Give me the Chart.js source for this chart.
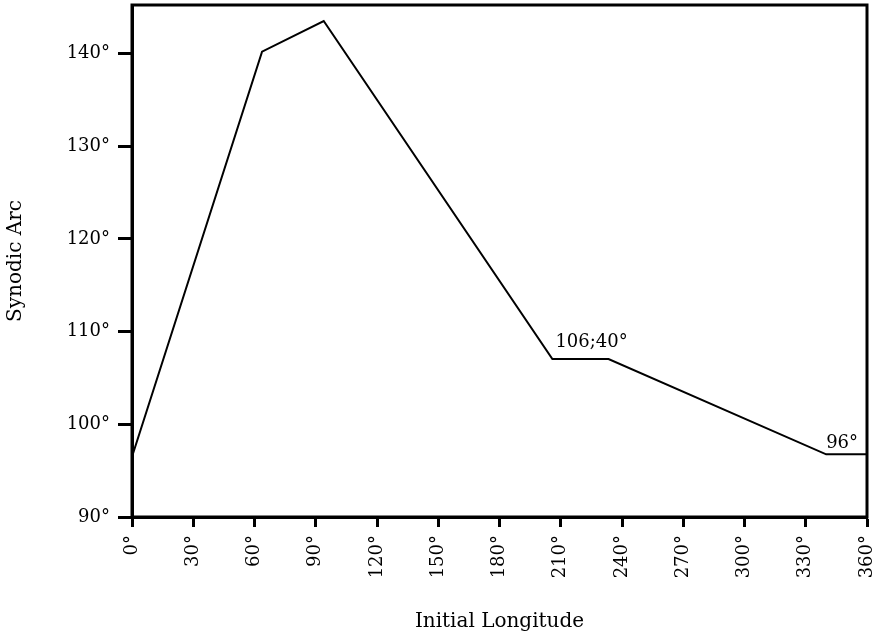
<!DOCTYPE html>
<html>
<head>
<meta charset="utf-8">
<script src="https://cdn.jsdelivr.net/npm/chart.js@4"></script>
<style>
  html, body { margin: 0; padding: 0; background: #fff; }
  #wrap { width: 886px; height: 642px; }
</style>
</head>
<body>
<div id="wrap"><canvas id="c" width="886" height="642"></canvas></div>
<script>
// Data
const longitudes = [0, 63.7, 93.9, 205.9, 233.4, 340.0, 360];
const synodicArc = [96.5, 140.2, 143.5, 107.04, 107.04, 96.76, 96.76];
const xTickValues = [0, 30, 60, 90, 120, 150, 180, 210, 240, 270, 300, 330, 360];
const yTickValues = [90, 100, 110, 120, 130, 140];
const annotationTexts = ['106;40°', '96°'];
const annotationIndex = [3, 5];

const FONT = 'DejaVu Serif';

const whiteBg = {
  id: 'whiteBg',
  beforeDraw(chart) {
    const ctx = chart.ctx;
    ctx.save();
    ctx.fillStyle = '#fff';
    ctx.fillRect(0, 0, chart.width, chart.height);
    ctx.restore();
  }
};

const frameAndLabels = {
  id: 'frameAndLabels',
  afterDraw(chart) {
    const ctx = chart.ctx;
    const a = chart.chartArea;
    ctx.save();
    ctx.strokeStyle = '#000';
    ctx.lineWidth = 3;
    ctx.strokeRect(a.left, a.top, a.right - a.left, a.bottom - a.top);
    const xs = chart.scales.x, ys = chart.scales.y;
    ctx.fillStyle = '#000';
    ctx.font = '18px "' + FONT + '"';
    ctx.textAlign = 'left';
    ctx.textBaseline = 'alphabetic';
    const offsets = [[3, -12], [0, -6]];
    annotationTexts.forEach((t, i) => {
      const k = annotationIndex[i];
      const px = xs.getPixelForValue(longitudes[k]);
      const py = ys.getPixelForValue(synodicArc[k]);
      ctx.fillText(t, px + offsets[i][0], py + offsets[i][1]);
    });
    ctx.restore();
  }
};

function zeroPad(s) { s.paddingTop = 0; s.paddingBottom = 0; s.paddingLeft = 0; s.paddingRight = 0; }

new Chart(document.getElementById('c'), {
  type: 'line',
  data: {
    datasets: [{
      data: longitudes.map((x, i) => ({ x: x, y: synodicArc[i] })),
      borderColor: '#000',
      borderWidth: 2,
      pointRadius: 0,
      tension: 0,
      fill: false
    }]
  },
  options: {
    responsive: false,
    animation: false,
    devicePixelRatio: 1,
    layout: { padding: { top: 5, right: 19, left: 0, bottom: 0 } },
    plugins: { legend: { display: false }, tooltip: { enabled: false } },
    scales: {
      x: {
        type: 'linear',
        min: 0,
        max: 360,
        afterFit(s) { s.height = 125; zeroPad(s); },
        afterBuildTicks(s) { s.ticks = xTickValues.map(v => ({ value: v })); },
        border: { display: true, color: '#000', width: 3 },
        grid: { display: true, drawOnChartArea: false, drawTicks: true, tickLength: 10, tickWidth: 3, tickColor: '#000' },
        ticks: {
          minRotation: 90, maxRotation: 90, autoSkip: false, padding: 8,
          color: '#000', font: { family: FONT, size: 18 },
          callback: v => v + '°'
        },
        title: {
          display: true, text: 'Initial Longitude', color: '#000',
          font: { family: FONT, size: 20 }, padding: { top: 0, bottom: 8 }
        }
      },
      y: {
        type: 'linear',
        min: 90,
        max: 145.23,
        afterFit(s) { s.width = 132; zeroPad(s); },
        afterBuildTicks(s) { s.ticks = yTickValues.map(v => ({ value: v })); },
        border: { display: true, color: '#000', width: 3 },
        grid: { display: true, drawOnChartArea: false, drawTicks: true, tickLength: 14, tickWidth: 3, tickColor: '#000' },
        ticks: {
          padding: 8, color: '#000', font: { family: FONT, size: 18 },
          callback: v => v + '°'
        },
        title: {
          display: true, text: 'Synodic Arc', color: '#000',
          font: { family: FONT, size: 20 }, padding: { top: 4, bottom: 0 }
        }
      }
    }
  },
  plugins: [whiteBg, frameAndLabels]
});
</script>
</body>
</html>
